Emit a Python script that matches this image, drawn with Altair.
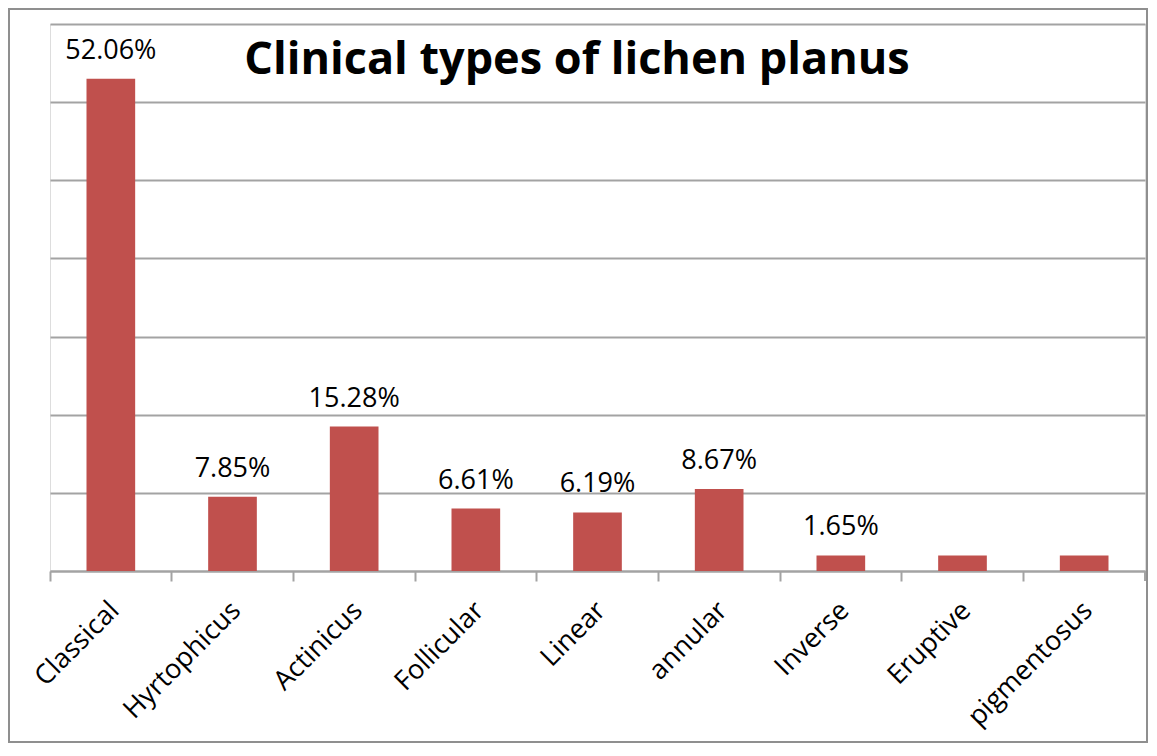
import altair as alt
import pandas as pd

categories = ["Classical", "Hyrtophicus", "Actinicus", "Follicular", "Linear",
              "annular", "Inverse", "Eruptive", "pigmentosus"]
values = [52.06, 7.85, 15.28, 6.61, 6.19, 8.67, 1.65, 1.65, 1.65]
labels = ["52.06%", "7.85%", "15.28%", "6.61%", "6.19%", "8.67%", "1.65%", "", ""]
title_text = "Clinical types of lichen planus"

# y axis: 0..140 cases in steps of 20 (out of 242 patients), shown as percent
y_max = 140 / 242 * 100
grid_vals = [i * 20 / 242 * 100 for i in range(8)]

W, H = 1095, 547

df = pd.DataFrame({"cat": categories, "val": values, "lab": labels})

FONT = "Open Sans"
GRAY = "#a3a3a3"

xscale = alt.Scale(paddingInner=0, paddingOuter=0)
xenc = alt.X("cat:N", sort=categories, scale=xscale,
             axis=alt.Axis(title=None, bandPosition=0, labelOffset=4,
                           labelAngle=-45, labelAlign="right", labelBaseline="middle",
                           labelFont=FONT, labelFontSize=27, labelColor="black",
                           labelPadding=25, tickSize=10, tickColor=GRAY, tickWidth=2,
                           domainColor=GRAY, domainWidth=2, grid=False))
yenc = alt.Y("val:Q", scale=alt.Scale(domain=[0, y_max], nice=False),
             axis=alt.Axis(title=None, values=grid_vals, labels=False, ticks=False,
                           domain=False, grid=True, gridColor=GRAY, gridWidth=2))

base = alt.Chart(df)

bars = base.mark_bar(color="#C0504D", width=alt.RelativeBandSize(0.4)).encode(x=xenc, y=yenc)

text = base.mark_text(font=FONT, fontSize=27, color="black", dy=-20,
                      baseline="alphabetic").encode(
    x=alt.X("cat:N", sort=categories), y="val:Q", text="lab:N")

last_tick = base.mark_rule(color=GRAY, strokeWidth=2).encode(
    x=alt.value(W), y=alt.value(H), y2=alt.value(H + 10))

title = alt.Chart(pd.DataFrame({"t": [title_text]})).mark_text(
    font=FONT, fontSize=45, fontWeight="bold", color="black", align="center",
    baseline="middle").encode(x=alt.value(527), y=alt.value(36), text="t:N")

frame = alt.Chart(pd.DataFrame({"a": [0]})).mark_rect(
    fill=None, stroke="#8f8f8f", strokeWidth=2).encode(
    x=alt.value(-41), x2=alt.value(1097), y=alt.value(-15), y2=alt.value(718))

chart = alt.layer(frame, bars, text, last_tick, title).properties(
    width=W, height=H, autosize="none",
    padding={"left": 42, "top": 16, "right": 4, "bottom": 172}
).configure_view(stroke=None).configure(background="white")

chart.save("out.html", embed_options={"renderer": "svg", "actions": False})
